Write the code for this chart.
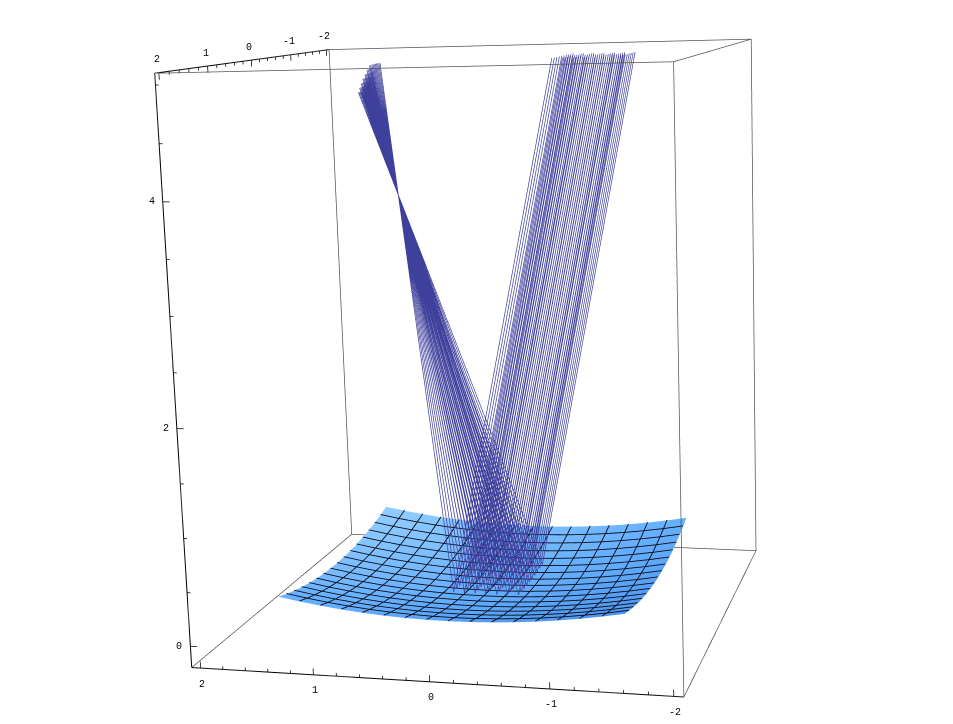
import numpy as np, plotly.graph_objects as go

# ---------- values ----------
box_xy = 2.08
box_z = [-0.2, 5.1]
x_major = [2, 1, 0, -1, -2]
y_major = [2, 1, 0, -1, -2]
xy_minor = [1.8, 1.6, 1.4, 1.2, 0.8, 0.6, 0.4, 0.2, -0.2, -0.4, -0.6, -0.8, -1.2, -1.4, -1.6, -1.8]
z_major = [0, 2, 4]
z_minor = [0.5, 1, 1.5, 2.5, 3, 3.5, 4.5, 5]
surf_x = [-1.5, -1.3125, -1.125, -.9375, -.75, -.5625, -.375, -.1875, 0, .1875, .375, .5625, .75, .9375, 1.125, 1.3125, 1.5]
surf_y = [-1.5, -1.3125, -1.125, -.9375, -.75, -.5625, -.375, -.1875, 0, .1875, .375, .5625, .75, .9375, 1.125, 1.3125, 1.5]
rise_x = [.15, .1148, .0844, .0586, .0375, .0211, .0094, .0023, 0, .0023, .0094, .0211, .0375, .0586, .0844, .1148, .15]
rise_y = [.15, .1148, .0844, .0586, .0375, .0211, .0094, .0023, 0, .0023, .0094, .0211, .0375, .0586, .0844, .1148, .15]
hit_x = [-.3, -.2, -.1, 0, .1, .2, .3]
hit_y = [-.6, -.5, -.4, -.3, -.2, -.1, 0, .1, .2, .3]
beam_slope = [-.137, -.296]
beam_top = 5.0
focus = [.42, 1.07, 3.93]
end_scale = .27
end_tilt = .10

# ---------- view fitted to the box corners ----------
pose_w = [-.29, 1.874, 2.271]
pose_t = [.042, .108, -8.799]
aspect = [2, 2.014, 2.374]
pad = 1.0025

def rod(w):
    th = np.linalg.norm(w); k = w / th
    K = np.array([[0, -k[2], k[1]], [k[2], 0, -k[0]], [-k[1], k[0], 0]])
    return np.eye(3) + np.sin(th) * K + (1 - np.cos(th)) * K @ K
R = rod(np.array(pose_w)); t = np.array(pose_t)
eye = -R.T @ t
fwd = R.T @ np.array([0, 0, -1.])
up = R.T @ np.array([0, 1., 0])
cen = eye + fwd * np.linalg.norm(eye)

b = box_xy; zlo, zhi = box_z
zmid = (zlo + zhi) / 2; zh = (zhi - zlo) / 2

fig = go.Figure()

# surface
Z = np.add.outer(rise_y, rise_x)
X, Y = np.meshgrid(surf_x, surf_y)
fig.add_trace(go.Surface(x=surf_x, y=surf_y, z=Z, surfacecolor=X - Y, cmin=-3, cmax=3, showscale=False, hoverinfo="skip",
    colorscale=[[0, "#4a93f0"], [.5, "#66b0ff"], [1, "#92cdff"]],
    lighting=dict(ambient=1, diffuse=0, specular=0, fresnel=0, roughness=1)))

def lines(xs, ys, zs, color, width):
    fig.add_trace(go.Scatter3d(x=xs, y=ys, z=zs, mode="lines", line=dict(color=color, width=width),
                               hoverinfo="skip", showlegend=False))

# mesh
mx, my, mz = [], [], []
n = len(surf_x)
for i in range(1, n - 1):
    mx += list(surf_x) + [None]; my += [surf_y[i]] * n + [None]; mz += list(Z[i] + .004) + [None]
    mx += [surf_x[i]] * n + [None]; my += list(surf_y) + [None]; mz += list(Z[:, i] + .004) + [None]
lines(mx, my, mz, "#0a0a14", 1.8)

# rays
rx, ry, rz = [], [], []
for hx in hit_x:
    for hy in hit_y:
        hz = np.interp(hx, surf_x, rise_x) + np.interp(hy, surf_y, rise_y)
        h = beam_top - hz
        s = end_scale + end_tilt * hx
        rx += [hx + beam_slope[0] * h, hx, focus[0] + s * (focus[0] - hx), None]
        ry += [hy + beam_slope[1] * h, hy, focus[1] + s * (focus[1] - hy), None]
        rz += [beam_top, hz, focus[2] + s * (focus[2] - hz), None]
lines(rx, ry, rz, "#3f3f9c", 1.4)

# box
corners = [(b, b), (-b, b), (-b, -b), (b, -b)]
ex, ey, ez = [], [], []
for i in range(4):
    p, q = corners[i], corners[(i + 1) % 4]
    for z in (zlo, zhi):
        ex += [p[0], q[0], None]; ey += [p[1], q[1], None]; ez += [z, z, None]
    ex += [p[0], p[0], None]; ey += [p[1], p[1], None]; ez += [zlo, zhi, None]
lines(ex, ey, ez, "#555555", 1.5)

# axes and ticks
lines([b, -b, None, b, b, None, b, b], [b, b, None, b, -b, None, b, b], [zlo, zlo, None, zhi, zhi, None, zlo, zhi], "#000000", 2)
tx, ty, tz = [], [], []
for vals, ln in ((x_major, .06), (xy_minor, .03)):
    for v in vals:
        tx += [v, v, None]; ty += [b, b, None]; tz += [zlo, zlo + ln, None]
        tx += [b, b, None]; ty += [v, v, None]; tz += [zhi, zhi - ln, None]
for vals, ln in ((z_major, .06), (z_minor, .03)):
    for v in vals:
        tx += [b, b - ln, None]; ty += [b, b, None]; tz += [v, v, None]
lines(tx, ty, tz, "#000000", 1.5)

tick_font = dict(family="Liberation Mono", size=10, color="black")
ann = []
for v in x_major:
    ann.append(dict(x=v, y=b, z=zlo, text=str(v), showarrow=False, xshift=1.5, yshift=-16, font=tick_font))
for v in y_major:
    ann.append(dict(x=b, y=v, z=zhi, text=str(v), showarrow=False, xshift=-2, yshift=13, font=tick_font))
for v in z_major:
    ann.append(dict(x=b, y=b, z=v, text=str(v), showarrow=False, xshift=-11, yshift=0, font=tick_font))

fig.update_layout(width=953, height=1714, margin=dict(l=0, r=0, t=0, b=0), paper_bgcolor="white", showlegend=False,
    scene=dict(domain=dict(x=[0, 1], y=[0, 1]), bgcolor="white",
        xaxis=dict(visible=False, range=[-b * pad, b * pad], autorange=False),
        yaxis=dict(visible=False, range=[-b * pad, b * pad], autorange=False),
        zaxis=dict(visible=False, range=[zmid - zh * pad, zmid + zh * pad], autorange=False),
        aspectmode="manual", aspectratio=dict(x=aspect[0] * pad, y=aspect[1] * pad, z=aspect[2] * pad),
        camera=dict(eye=dict(x=eye[0], y=eye[1], z=eye[2]), center=dict(x=cen[0], y=cen[1], z=cen[2]),
                    up=dict(x=up[0], y=up[1], z=up[2]), projection=dict(type="perspective")),
        annotations=ann))
fig.write_html("out.html", post_script="document.body.style.margin='0';document.body.style.overflow='hidden';document.querySelector('.plotly-graph-div').style.marginTop='-495px';")
